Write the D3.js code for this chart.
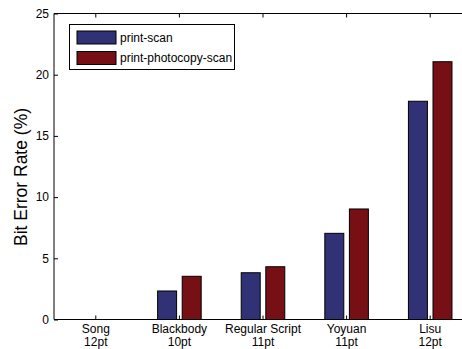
<!DOCTYPE html>
<html>
<head>
<meta charset="utf-8">
<script src="https://cdn.jsdelivr.net/npm/d3@7"></script>
<style>
  html, body { margin: 0; padding: 0; background: #fff; overflow: hidden; }
  svg { display: block; font-family: "Liberation Sans", Arial, sans-serif; }
</style>
</head>
<body>
<svg id="chart" width="462" height="349"></svg>
<script>
// Font categories and their point sizes
const fonts = ["Song", "Blackbody", "Regular Script", "Yoyuan", "Lisu"];
const sizes = ["12pt", "10pt", "11pt", "11pt", "12pt"];
// Bit error rate (%) per font
const printScan = [0, 2.33, 3.82, 7.04, 17.83];
const printPhotocopyScan = [0, 3.53, 4.31, 9.03, 21.06];
const seriesNames = ["print-scan", "print-photocopy-scan"];
const seriesColors = ["#313175", "#761014"];
const yTicks = [0, 5, 10, 15, 20, 25];

const svg = d3.select("#chart");
const plotLeft = 54, plotTop = 13.5, plotBottom = 319.5;
const step = 83.6;
const plotRight = plotLeft + step * fonts.length;

const x = d3.scaleLinear().domain([0.5, fonts.length + 0.5]).range([plotLeft, plotRight]);
const y = d3.scaleLinear().domain([0, 25]).range([plotBottom, plotTop]);

const barW = 0.227, offset = 0.147;
const series = [printScan, printPhotocopyScan];

// Bars
series.forEach((vals, si) => {
  svg.append("g").selectAll("rect")
    .data(vals)
    .join("rect")
    .attr("x", (d, i) => x(i + 1 + (si === 0 ? -offset : offset)) - (x(barW) - x(0)) / 2)
    .attr("width", x(barW) - x(0))
    .attr("y", d => y(d))
    .attr("height", d => y(0) - y(d))
    .attr("fill", seriesColors[si])
    .attr("stroke", "#000")
    .attr("stroke-width", 1);
});

// Axis frame (the right side falls beyond the visible area)
const frame = svg.append("g").attr("stroke", "#000").attr("fill", "none").attr("stroke-width", 1);
frame.append("line").attr("x1", plotLeft).attr("x2", plotRight).attr("y1", plotBottom).attr("y2", plotBottom);
frame.append("line").attr("x1", plotLeft).attr("x2", plotRight).attr("y1", plotTop).attr("y2", plotTop);
frame.append("line").attr("x1", plotLeft).attr("x2", plotLeft).attr("y1", plotTop).attr("y2", plotBottom);

// Y axis (ticks pointing inward)
const yAxis = d3.axisLeft(y).tickValues(yTicks).tickSize(-4).tickPadding(5).tickFormat(d3.format("d"));
svg.append("g").attr("transform", `translate(${plotLeft},0)`).call(yAxis)
  .call(g => g.select(".domain").remove())
  .call(g => g.selectAll("text").attr("font-size", 12).attr("fill", "#000").attr("font-family", "Liberation Sans, Arial, sans-serif"));

// X ticks inward at bottom and top
const xPos = fonts.map((f, i) => i + 1);
svg.append("g").selectAll("line").data(xPos).join("line")
  .attr("x1", d => x(d)).attr("x2", d => x(d))
  .attr("y1", plotBottom).attr("y2", plotBottom - 4).attr("stroke", "#000");
svg.append("g").selectAll("line").data(xPos).join("line")
  .attr("x1", d => x(d)).attr("x2", d => x(d))
  .attr("y1", plotTop).attr("y2", plotTop + 4).attr("stroke", "#000");

// Two-line category labels
const lbl = svg.append("g").attr("font-size", 12).attr("fill", "#000").attr("text-anchor", "middle");
fonts.forEach((f, i) => {
  const t = lbl.append("text").attr("x", x(i + 1)).attr("y", 333);
  t.append("tspan").attr("x", x(i + 1)).text(f);
  t.append("tspan").attr("x", x(i + 1)).attr("dy", f === "Yoyuan" ? 13 : 12.5).text(sizes[i]);
});

// Y axis title
svg.append("text")
  .attr("transform", `translate(27,177) rotate(-90)`)
  .attr("text-anchor", "middle")
  .attr("font-size", 17.5)
  .attr("fill", "#000")
  .text("Bit Error Rate (%)");

// Legend
const lg = svg.append("g");
lg.append("rect").attr("x", 69.5).attr("y", 24.5).attr("width", 165).attr("height", 45)
  .attr("fill", "#fff").attr("stroke", "#000");
seriesNames.forEach((name, i) => {
  const yy = 31 + i * 20.5;
  lg.append("rect").attr("x", 77).attr("y", yy).attr("width", 39).attr("height", 13)
    .attr("fill", seriesColors[i]).attr("stroke", "#000");
  lg.append("text").attr("x", 120).attr("y", yy + 10.5).attr("font-size", 12).attr("fill", "#000").text(name);
});
</script>
</body>
</html>
